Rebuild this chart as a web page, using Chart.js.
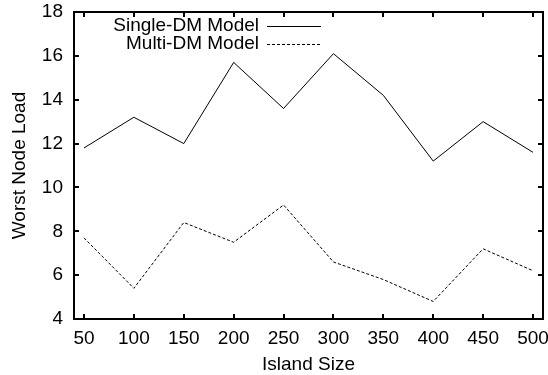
<!DOCTYPE html>
<html>
<head>
<meta charset="utf-8">
<script src="https://cdn.jsdelivr.net/npm/chart.js@4/dist/chart.umd.min.js"></script>
<style>
  body { margin: 0; background: #fff; }
  canvas { display: block; }
</style>
</head>
<body>
<canvas id="chart" width="548" height="375"></canvas>
<script>
var islandSizes = [50, 100, 150, 200, 250, 300, 350, 400, 450, 500];
var singleDM = [11.8, 13.2, 12.0, 15.7, 13.6, 16.1, 14.2, 11.2, 13.0, 11.6];
var multiDM  = [7.7, 5.4, 8.4, 7.5, 9.2, 6.6, 5.8, 4.8, 7.2, 6.2];
var yTicks = [4, 6, 8, 10, 12, 14, 16, 18];

var fontFamily = "'Liberation Sans', Arial, sans-serif";
var fontSize = 19;

function toPoints(values){
  return values.map(function(v, i){ return {x: islandSizes[i], y: v}; });
}

// box round the plot with inward ticks on all four sides (gnuplot style)
function drawFrame(chart){
  var ctx = chart.ctx;
  var xs = chart.scales.x, ys = chart.scales.y;
  var L = Math.round(xs.left), R = Math.round(xs.right);
  var T = Math.round(ys.top), B = Math.round(ys.bottom);
  var tick = 5;
  ctx.save();
  ctx.setLineDash([]);
  ctx.globalAlpha = 1;
  ctx.globalCompositeOperation = 'source-over';
  ctx.strokeStyle = 'rgb(0,0,0)';
  ctx.lineWidth = 2;
  ctx.beginPath();
  ctx.moveTo(L, T); ctx.lineTo(R, T); ctx.lineTo(R, B); ctx.lineTo(L, B); ctx.closePath();
  ctx.stroke();

  ctx.beginPath();
  for (var i = 0; i < islandSizes.length; i++) {
    var px = Math.round(xs.getPixelForValue(islandSizes[i]));
    ctx.moveTo(px, B); ctx.lineTo(px, B - tick);
    ctx.moveTo(px, T); ctx.lineTo(px, T + tick);
  }
  for (var j = 0; j < yTicks.length; j++) {
    var py = Math.round(ys.getPixelForValue(yTicks[j]));
    ctx.moveTo(L, py); ctx.lineTo(L + tick, py);
    ctx.moveTo(R, py); ctx.lineTo(R - tick, py);
  }
  ctx.stroke();
  ctx.restore();
}

function drawLegend(chart){
  var ctx = chart.ctx;
  ctx.save();
  ctx.font = fontSize + 'px ' + fontFamily;
  ctx.fillStyle = '#000';
  ctx.strokeStyle = '#000';
  ctx.lineWidth = 1;
  ctx.textAlign = 'right';
  ctx.textBaseline = 'middle';
  var textRight = 259, lineStart = 267, lineEnd = 321;
  chart.data.datasets.forEach(function(ds, i){
    var y = 26 + i * 17.6;
    ctx.fillText(ds.label, textRight, y);
    ctx.beginPath();
    ctx.setLineDash(ds.borderDash || []);
    ctx.moveTo(lineStart, Math.round(y) + 0.5);
    ctx.lineTo(lineEnd, Math.round(y) + 0.5);
    ctx.stroke();
  });
  ctx.restore();
}

var framePlugin = {
  id: 'gnuFrame',
  afterDraw: function(chart){
    drawFrame(chart);
    drawLegend(chart);
  }
};

var chart = new Chart(document.getElementById('chart'), {
  type: 'line',
  data: {
    datasets: [
      {
        label: 'Single-DM Model',
        data: toPoints(singleDM),
        borderColor: '#000',
        borderWidth: 1,
        pointRadius: 0,
        tension: 0,
        fill: false
      },
      {
        label: 'Multi-DM Model',
        data: toPoints(multiDM),
        borderColor: '#000',
        borderWidth: 1,
        borderDash: [3, 2],
        pointRadius: 0,
        tension: 0,
        fill: false
      }
    ]
  },
  options: {
    responsive: false,
    animation: false,
    layout: { padding: { left: 0, right: 5, top: 12, bottom: 0 } },
    plugins: {
      legend: { display: false },
      tooltip: { enabled: false }
    },
    scales: {
      x: {
        type: 'linear',
        min: 40,
        max: 510,
        afterBuildTicks: function(scale){
          scale.ticks = islandSizes.map(function(v){ return {value: v}; });
        },
        afterFit: function(scale){
          scale.height = 56;
          scale.paddingLeft = 0; scale.paddingRight = 0;
        },
        grid: { display: false, drawTicks: false },
        border: { display: false },
        ticks: {
          color: '#000',
          padding: 8,
          maxRotation: 0,
          font: { family: fontFamily, size: fontSize }
        },
        title: {
          display: true,
          text: 'Island Size',
          color: '#000',
          padding: { top: 0, bottom: -1 },
          font: { family: fontFamily, size: fontSize }
        }
      },
      y: {
        min: 4,
        max: 18,
        afterBuildTicks: function(scale){
          scale.ticks = yTicks.map(function(v){ return {value: v}; });
        },
        afterFit: function(scale){
          scale.width = 74;
          scale.paddingTop = 0; scale.paddingBottom = 0;
        },
        grid: { display: false, drawTicks: false },
        border: { display: false },
        ticks: {
          color: '#000',
          padding: 11,
          font: { family: fontFamily, size: fontSize }
        },
        title: {
          display: true,
          text: 'Worst Node Load',
          color: '#000',
          padding: { top: 8, bottom: 0 },
          font: { family: fontFamily, size: fontSize }
        }
      }
    }
  },
  plugins: [framePlugin]
});
</script>
</body>
</html>
